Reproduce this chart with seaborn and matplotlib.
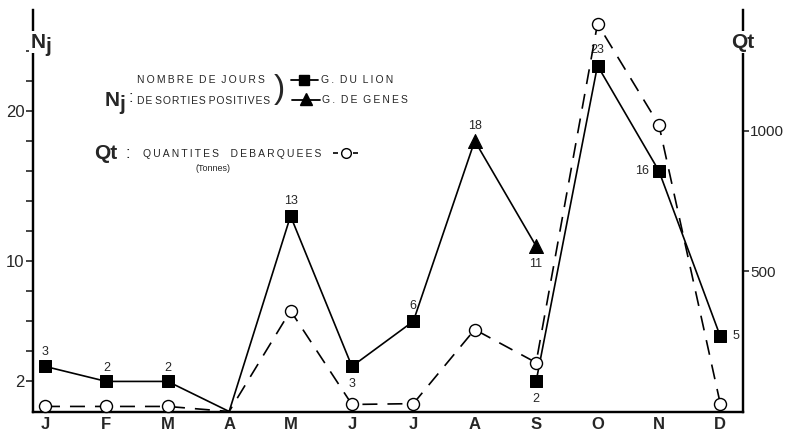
import matplotlib
matplotlib.use('Agg')
import matplotlib.pyplot as plt
import seaborn as sns
import pandas as pd
from matplotlib.lines import Line2D

# ---------------- data ----------------
months = ['J', 'F', 'M', 'A', 'M', 'J', 'J', 'A', 'S', 'O', 'N', 'D']
# Nj solid line, first part: G. du Lion Jan-Jul then G. de Genes Aug-Sep
seg1_idx = [0, 1, 2, 3, 4, 5, 6, 7, 8]
seg1_vals = [3, 2, 2, 0, 13, 3, 6, 18, 11]
# G. du Lion squares
lion_idx = [0, 1, 2, 4, 5, 6, 8, 9, 10, 11]
lion_vals = [3, 2, 2, 13, 3, 6, 2, 23, 16, 5]
lion_labels = ['3', '2', '2', '13', '3', '6', '2', '23', '16', '5']
# G. de Genes triangles
genes_idx = [7, 8]
genes_vals = [18, 11]
genes_labels = ['18', '11']
# Nj solid line, second part (G. du Lion Sep-Dec)
seg2_idx = [8, 9, 10, 11]
seg2_vals = [2, 23, 16, 5]
# Qt : quantites debarquees (tonnes)
qt_idx = list(range(12))
qt_vals = [18, 18, 18, 0, 359, 25, 28, 292, 174, 1381, 1021, 28]

# ---------------- style ----------------
sns.set_style('white')
plt.rcParams['font.family'] = ['Liberation Sans', 'DejaVu Sans']

W, H = 785, 436
fig = plt.figure(figsize=(W / 100, H / 100), dpi=100)
ax = fig.add_axes([33 / W, 1 - 411.5 / H, (743 - 33) / W, (411.5 - 10) / H])
ax2 = ax.twinx()

def px(x, y):
    return x / W, 1 - y / H

def spaced(s, gap='\u2009', wgap='   '):
    return wgap.join(gap.join(w) for w in s.split(' '))

# Nj lines
df1 = pd.DataFrame({'m': seg1_idx, 'v': seg1_vals})
df2 = pd.DataFrame({'m': seg2_idx, 'v': seg2_vals})
sns.lineplot(data=df1, x='m', y='v', ax=ax, color='black', lw=1.2)
sns.lineplot(data=df2, x='m', y='v', ax=ax, color='black', lw=1.2)
dl = pd.DataFrame({'m': lion_idx, 'v': lion_vals})
dg = pd.DataFrame({'m': genes_idx, 'v': genes_vals})
sns.scatterplot(data=dl, x='m', y='v', ax=ax, marker='s', s=80, color='black',
                edgecolor='black', zorder=5, clip_on=False)
sns.scatterplot(data=dg, x='m', y='v', ax=ax, marker='^', s=100, color='black',
                edgecolor='black', zorder=5, clip_on=False)

# value labels
lab_off = {0: (0, 10), 1: (0, 10), 2: (0, 10), 4: (0, 11), 5: (0, -13),
           6: (0, 11), 8: (0, -13), 9: (0, 11), 10: (-12, 0), 11: (11, 0)}
for i, v, t in zip(lion_idx, lion_vals, lion_labels):
    dx, dy = lab_off[i]
    ax.annotate(t, (i, v), xytext=(dx, dy), textcoords='offset points',
                ha='center', va='center', fontsize=9)
for i, v, t, dy in zip(genes_idx, genes_vals, genes_labels, [11, -13]):
    ax.annotate(t, (i, v), xytext=(0, dy), textcoords='offset points',
                ha='center', va='center', fontsize=9)

# Qt dashed line with open circles
dq = pd.DataFrame({'m': qt_idx, 'v': qt_vals})
sns.lineplot(data=dq, x='m', y='v', ax=ax2, color='black', lw=1.2,
             dashes=False, linestyle=(0, (9, 6)))
dqm = dq[dq['v'] > 0]
sns.scatterplot(data=dqm, x='m', y='v', ax=ax2, marker='o', s=75,
                facecolor='white', edgecolor='black', linewidth=1.0,
                zorder=6, clip_on=False)

# ---------------- axes ----------------
ax.set_xlim(-0.195, 11.37)
ax.set_ylim(0, 26.7)
ax2.set_ylim(0, 1430)
for a in (ax, ax2):
    a.set_xlabel('')
    a.set_ylabel('')
    a.spines['top'].set_visible(False)
    for s in ('left', 'right', 'bottom'):
        a.spines[s].set_linewidth(1.6)
        a.spines[s].set_color('black')

ax.set_xticks(range(12))
ax.set_xticklabels(months, fontsize=12, fontweight='bold')
ax.tick_params(axis='x', direction='inout', length=6, width=1.2, pad=1)
ax.set_yticks(list(range(2, 26, 2)))
ax.set_yticklabels(['2' if t == 2 else '10' if t == 10 else '20' if t == 20 else ''
                    for t in range(2, 26, 2)], fontsize=12)
ax.tick_params(axis='y', left=True, direction='out', length=5, width=1.2, pad=1)
ax2.set_yticks([500, 1000])
ax2.set_yticklabels(['500', '1000'], fontsize=11)
ax2.tick_params(axis='y', right=True, direction='out', length=4, width=1.2, pad=1)

# axis titles
fig.text(*px(38, 42), 'N', fontsize=15, fontweight='bold', ha='center', va='center',
         bbox=dict(facecolor='white', edgecolor='none', pad=1))
fig.text(*px(48, 46), 'j', fontsize=15, fontweight='bold', ha='center', va='center')
fig.text(*px(743, 42), 'Qt', fontsize=15, fontweight='bold', ha='center', va='center',
         bbox=dict(facecolor='white', edgecolor='none', pad=1))

# ---------------- legend (text) ----------------
fig.text(*px(112, 100), 'N', fontsize=15, fontweight='bold', ha='center', va='center')
fig.text(*px(122, 104), 'j', fontsize=15, fontweight='bold', ha='center', va='center')
fig.text(*px(131, 98), ':', fontsize=12, ha='center', va='center')
fig.text(*px(137, 80), spaced('NOMBRE DE JOURS', wgap='  '), fontsize=7.5,
         ha='left', va='center')
fig.text(*px(137, 101), spaced('DE SORTIES POSITIVES', gap='\u200a', wgap=' '),
         fontsize=7.5, ha='left', va='center')
fig.text(*px(279, 89), ')', fontsize=24, ha='center', va='center', fontweight='light')

fig.add_artist(Line2D([291 / W, 318 / W], [1 - 80 / H] * 2, transform=fig.transFigure,
                      color='black', lw=1.3))
fig.add_artist(Line2D([304 / W], [1 - 80 / H], transform=fig.transFigure,
                      color='black', marker='s', markersize=7, lw=0))
fig.add_artist(Line2D([292 / W, 320 / W], [1 - 100 / H] * 2, transform=fig.transFigure,
                      color='black', lw=1.3))
fig.add_artist(Line2D([306 / W], [1 - 99 / H], transform=fig.transFigure,
                      color='black', marker='^', markersize=8, lw=0))
fig.text(*px(321, 80), spaced('G. DU LION', wgap='  '), fontsize=7.5, ha='left', va='center')
fig.text(*px(322, 100), spaced('G. DE GENES', wgap='  '), fontsize=7.5, ha='left', va='center')

fig.text(*px(94, 153), 'Qt', fontsize=15, fontweight='bold', ha='left', va='center')
fig.text(*px(128, 154), ':', fontsize=12, ha='center', va='center')
fig.text(*px(143, 154), spaced('QUANTITES DEBARQUEES', wgap='    '), fontsize=7.5,
         ha='left', va='center')
fig.add_artist(Line2D([333 / W, 360 / W], [1 - 153 / H] * 2, transform=fig.transFigure,
                      color='black', lw=1.2, linestyle=(0, (3, 3))))
fig.add_artist(Line2D([346 / W], [1 - 153 / H], transform=fig.transFigure,
                      color='black', marker='o', markersize=7, markerfacecolor='white', lw=0))
fig.text(*px(195, 168), '(Tonnes)', fontsize=6.5, ha='left', va='center')

fig.savefig('out.png', dpi=100)
